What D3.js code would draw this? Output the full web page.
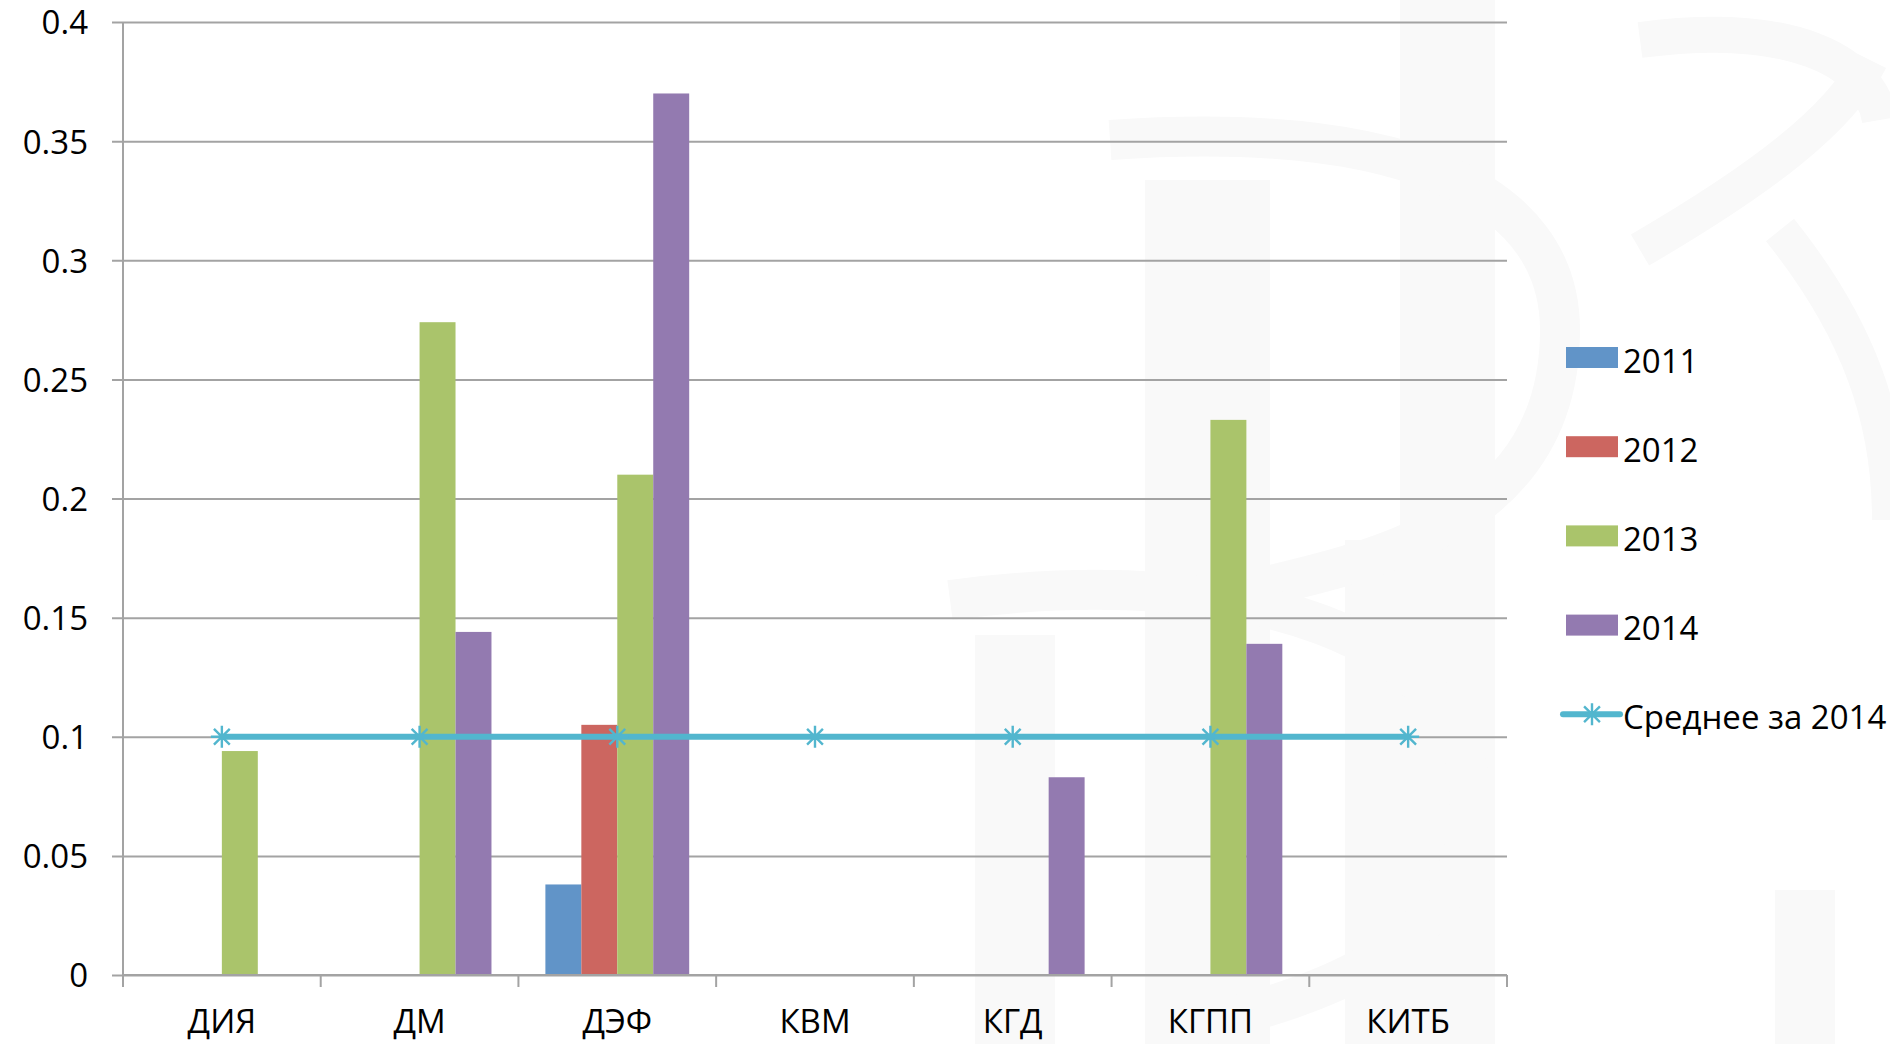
<!DOCTYPE html>
<html>
<head>
<meta charset="utf-8">
<script src="https://cdn.jsdelivr.net/npm/d3@7/dist/d3.min.js"></script>
<style>
  html, body { margin: 0; padding: 0; background: #ffffff; }
  svg { display: block; }
  text { font-family: "Open Sans", "Noto Sans", sans-serif; fill: #000; }
</style>
</head>
<body>
<svg id="chart" width="1890" height="1044"></svg>
<script>
// ---- data ----
const categories = ["ДИЯ", "ДМ", "ДЭФ", "КВМ", "КГД", "КГПП", "КИТБ"];
const seriesNames = ["2011", "2012", "2013", "2014"];
const values2011 = [0, 0, 0.038, 0, 0, 0, 0];
const values2012 = [0, 0, 0.105, 0, 0, 0, 0];
const values2013 = [0.094, 0.274, 0.210, 0, 0, 0.233, 0];
const values2014 = [0, 0.144, 0.370, 0, 0.083, 0.139, 0];
const average2014 = [0.1, 0.1, 0.1, 0.1, 0.1, 0.1, 0.1];
const averageName = "Среднее за 2014";
const yTicks = [0, 0.05, 0.1, 0.15, 0.2, 0.25, 0.3, 0.35, 0.4];
const yTickLabels = ["0", "0.05", "0.1", "0.15", "0.2", "0.25", "0.3", "0.35", "0.4"];

const seriesColors = ["#6194C8", "#CC6660", "#AAC46B", "#937AB0"];
const lineColor = "#52B6CE";
const gridColor = "#A3A3A3";

const allSeries = [values2011, values2012, values2013, values2014];

(function () {
const svg = d3.select("#chart");
const fontSize = "33px";

// ---- faint watermark in background ----
const wmc = "#F9F9F9";
const wm = svg.append("g").attr("fill", wmc);
wm.append("rect").attr("x", 1145).attr("y", 180).attr("width", 125).attr("height", 864);
wm.append("rect").attr("x", 1400).attr("y", 0).attr("width", 95).attr("height", 1044);
wm.append("rect").attr("x", 1345).attr("y", 540).attr("width", 115).attr("height", 504);
wm.append("rect").attr("x", 975).attr("y", 635).attr("width", 80).attr("height", 409);
wm.append("rect").attr("x", 1775).attr("y", 890).attr("width", 60).attr("height", 154);
wm.append("path").attr("fill", "none").attr("stroke", wmc).attr("stroke-width", 40)
  .attr("d", "M1110,140 C1400,120 1560,190 1560,330 C1560,520 1380,560 1250,590");
wm.append("path").attr("fill", "none").attr("stroke", wmc).attr("stroke-width", 40)
  .attr("d", "M950,600 C1250,560 1470,640 1470,800 C1470,960 1300,1000 1180,1030");
wm.append("path").attr("fill", "none").attr("stroke", wmc).attr("stroke-width", 36)
  .attr("d", "M1640,40 C1790,20 1870,60 1880,120 M1640,250 C1760,180 1840,120 1870,60");
wm.append("path").attr("fill", "none").attr("stroke", wmc).attr("stroke-width", 36)
  .attr("d", "M1780,230 C1860,330 1890,420 1890,520");

// ---- scales ----
const pLeft = 123, pRight = 1507, pTop = 22, pBottom = 975;
const x0 = d3.scaleBand().domain(categories).range([pLeft, pRight]).paddingInner(0).paddingOuter(0);
const bw = x0.bandwidth();
const barW = bw / (seriesNames.length + 1.5);
const x1 = d3.scaleBand().domain(seriesNames)
  .range([(bw - barW * seriesNames.length) / 2, (bw + barW * seriesNames.length) / 2])
  .padding(0);
const y = d3.scaleLinear().domain([0, 0.4]).range([pBottom, pTop]);

// ---- gridlines & y axis ----
const yAxis = d3.axisLeft(y).tickValues(yTicks)
  .tickFormat((d, i) => yTickLabels[i])
  .tickSize(-(pRight - pLeft)).tickSizeOuter(0);
const yg = svg.append("g").attr("transform", `translate(${pLeft},0)`).call(yAxis);
yg.select(".domain").remove();
yg.selectAll(".tick line").attr("stroke", gridColor).attr("stroke-width", 2)
  .attr("x1", -11).attr("x2", pRight - pLeft);
yg.selectAll(".tick text").attr("font-size", fontSize).attr("fill", "#000")
  .attr("font-family", "'Open Sans', 'Noto Sans', sans-serif").attr("x", -35).attr("dy", "0.36em");

// ---- bars ----
const groups = svg.append("g").selectAll("g").data(categories).join("g")
  .attr("transform", d => `translate(${x0(d)},0)`);
groups.selectAll("rect")
  .data((c, ci) => seriesNames.map((s, si) => ({ s, si, v: allSeries[si][ci] })))
  .join("rect")
  .attr("x", d => x1(d.s))
  .attr("width", x1.bandwidth())
  .attr("y", d => y(d.v))
  .attr("height", d => y(0) - y(d.v))
  .attr("fill", d => seriesColors[d.si]);

// ---- y axis line ----
svg.append("line").attr("x1", pLeft).attr("x2", pLeft).attr("y1", pTop).attr("y2", pBottom)
  .attr("stroke", gridColor).attr("stroke-width", 2);

// ---- x axis ----
const xAxis = d3.axisBottom(x0).tickSize(0).tickPadding(46);
const xg = svg.append("g").attr("transform", `translate(0,${pBottom})`).call(xAxis);
xg.select(".domain").attr("stroke", gridColor).attr("stroke-width", 2)
  .attr("d", `M${pLeft},0H${pRight}`);
xg.selectAll(".tick text").attr("font-size", fontSize).attr("fill", "#000")
  .attr("font-family", "'Open Sans', 'Noto Sans', sans-serif").attr("dy", "0.36em");
const boundaries = categories.map(c => x0(c)).concat([pRight]);
xg.selectAll(".bnd").data(boundaries).join("line").attr("class", "bnd")
  .attr("x1", d => d).attr("x2", d => d).attr("y1", 0).attr("y2", 12)
  .attr("stroke", gridColor).attr("stroke-width", 2);

// ---- average line ----
const cx = c => x0(c) + bw / 2;
const line = d3.line().x((d, i) => cx(categories[i])).y(d => y(d));
svg.append("path").datum(average2014).attr("d", line)
  .attr("fill", "none").attr("stroke", lineColor).attr("stroke-width", 6);

function star(g, px, py, r) {
  const d = r * 0.72;
  g.append("path")
    .attr("d", `M${px - d},${py - d}L${px + d},${py + d}M${px - d},${py + d}L${px + d},${py - d}M${px},${py - r}L${px},${py + r}M${px - r},${py}L${px + r},${py}`)
    .attr("stroke", lineColor).attr("stroke-width", 2.4).attr("fill", "none");
}
const mg = svg.append("g");
average2014.forEach((v, i) => star(mg, cx(categories[i]), y(v), 11));

// ---- legend ----
const legX = 1566, legY0 = 357.5, legStep = 89.2;
const leg = svg.append("g");
seriesNames.forEach((s, i) => {
  const cy = legY0 + i * legStep;
  leg.append("rect").attr("x", legX).attr("y", cy - 10.5).attr("width", 52).attr("height", 21)
    .attr("fill", seriesColors[i]);
  leg.append("text").attr("x", legX + 57).attr("y", cy + 15).attr("font-size", fontSize).text(s);
});
{
  const cy = legY0 + 4 * legStep;
  leg.append("line").attr("x1", legX - 3).attr("x2", legX + 54).attr("y1", cy).attr("y2", cy)
    .attr("stroke", lineColor).attr("stroke-width", 6).attr("stroke-linecap", "round");
  star(leg, legX + 26, cy, 11);
  leg.append("text").attr("x", legX + 57).attr("y", cy + 15).attr("font-size", fontSize).text(averageName);
}
})();
</script>
</body>
</html>
